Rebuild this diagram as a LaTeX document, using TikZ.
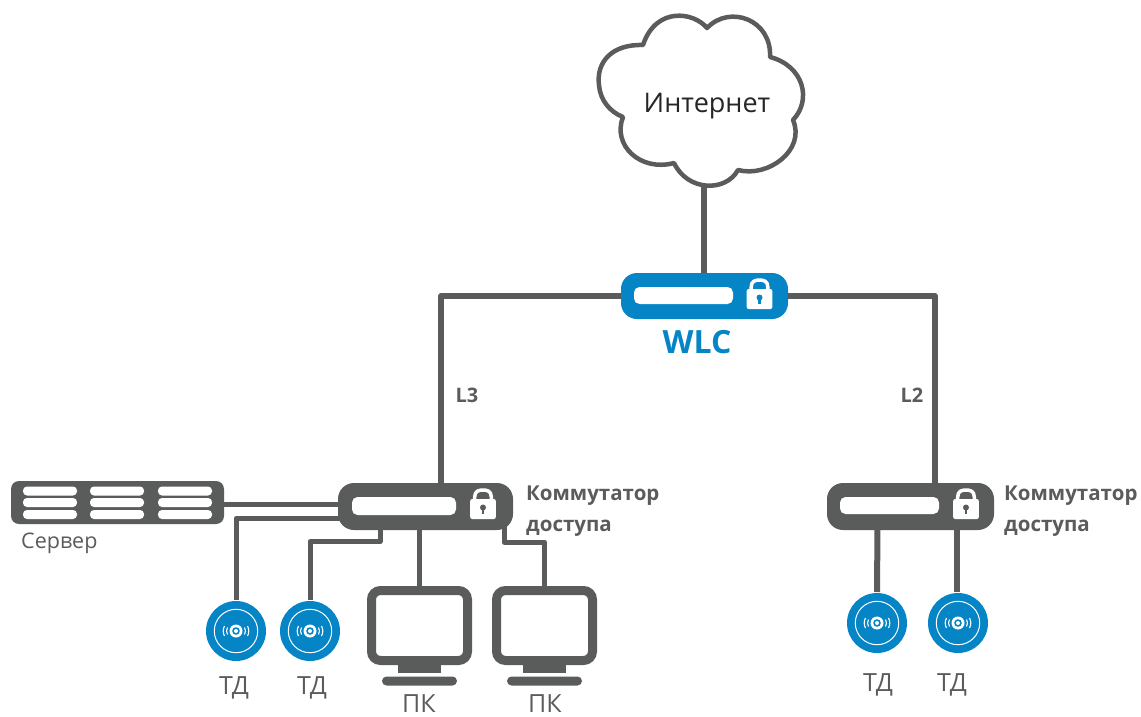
\documentclass[tikz,border=0pt]{standalone}
\usepackage{fontspec}
\setmainfont{Open Sans}
\usetikzlibrary{calc}
\definecolor{dgray}{HTML}{5A5B5B}
\definecolor{wblue}{HTML}{0585C6}
\tikzset{
  x=1pt,y=-1pt,
  link/.style={draw=dgray,line width=6pt,line join=round},
  thinlink/.style={draw=dgray,line width=5pt,line join=round},
  devbox/.style={rectangle,rounded corners=16pt,inner sep=0pt,outer sep=0pt,fill=dgray},
  slotbar/.style={rectangle,rounded corners=5.5pt,inner sep=0pt,outer sep=0pt,fill=white},
  srvbar/.style={rectangle,rounded corners=4pt,inner sep=0pt,outer sep=0pt,fill=white,minimum width=54pt,minimum height=9pt},
  apdisc/.style={circle,fill=wblue,inner sep=0pt,outer sep=0pt,minimum size=60pt},
  lbl/.style={inner sep=0pt,text=dgray,font=\fontsize{25}{28}\selectfont},
  lblb/.style={inner sep=0pt,text=dgray,font=\fontsize{20.5}{31}\selectfont\bfseries,align=left,anchor=north west},
  lockpic/.pic={
    \draw[white,line width=3.5pt] (-8.3,1) -- (-8.3,-3) .. controls (-8.3,-9) and (-4,-10) .. (0,-10) .. controls (4,-10) and (8.3,-9) .. (8.3,-3) -- (8.3,1);
    \fill[white,rounded corners=2pt] (-12.8,-1) rectangle (12.8,19);
    \fill[dgray] (0,7.5) circle (3);
    \fill[dgray] (-1.4,8) rectangle (1.4,14);
  },
  lockblue/.pic={
    \draw[white,line width=3.5pt] (-8.3,1) -- (-8.3,-3) .. controls (-8.3,-9) and (-4,-10) .. (0,-10) .. controls (4,-10) and (8.3,-9) .. (8.3,-3) -- (8.3,1);
    \fill[white,rounded corners=2pt] (-12.8,-1) rectangle (12.8,19);
    \fill[wblue] (0,7.5) circle (3);
    \fill[wblue] (-1.4,8) rectangle (1.4,14);
  },
  appic/.pic={
    \draw[white,line width=1pt] (0,0) circle (21.7);
    \fill[white] (0,0) circle (6.5);
    \fill[wblue] (0,0) circle (3.8);
    \fill[white] (0,0) circle (2);
    \draw[white,line width=1.1pt] (-8.5,-3.5) .. controls (-9.8,-1.5) and (-9.8,1.5) .. (-8.5,3.5);
    \draw[white,line width=1.1pt] (8.5,-3.5) .. controls (9.8,-1.5) and (9.8,1.5) .. (8.5,3.5);
    \draw[white,line width=1.1pt] (-11.5,-5) .. controls (-13.2,-2) and (-13.2,2) .. (-11.5,5);
    \draw[white,line width=1.1pt] (11.5,-5) .. controls (13.2,-2) and (13.2,2) .. (11.5,5);
  },
  monitorpic/.pic={
    \draw[dgray,line width=9pt,rounded corners=9pt,fill=white] (-48,-35) rectangle (48,35);
    \fill[dgray] (-21.5,39) rectangle (21.5,47);
    \fill[dgray,rounded corners=4.5pt] (-37.5,51) rectangle (37.5,60);
  }
}
\begin{document}
\begin{tikzpicture}
\useasboundingbox (0,0) rectangle (1141,716);
% cloud
\draw[dgray,line width=4.5pt,line join=round,fill=white]
  (707,28) .. controls (694,12) and (656,6) .. (643,45)
  .. controls (612,44) and (596,62) .. (599,85)
  .. controls (600,100) and (610,112) .. (623,117)
  .. controls (612,145) and (640,172) .. (674,163)
  .. controls (688,192) and (726,192) .. (738,170)
  .. controls (768,178) and (806,150) .. (793,120)
  .. controls (812,100) and (804,66) .. (770,57)
  .. controls (772,20) and (730,4) .. (707,28) -- cycle;
\node[inner sep=0pt,text=black!85,font=\fontsize{27}{30}\selectfont] (inet) at (707,106) {Интернет};
\coordinate (cloudB) at (704,185);
% devices
\node[devbox,fill=wblue,minimum width=167pt,minimum height=46pt] (wlc) at (704.5,296) {};
\node[devbox,minimum width=175pt,minimum height=47pt] (swL) at (425.5,506.5) {};
\node[devbox,minimum width=167pt,minimum height=47pt] (swR) at (910.5,506.5) {};
\node[devbox,rounded corners=8pt,minimum width=213pt,minimum height=43pt] (srv) at (117.5,502.5) {};
\node[apdisc] (ap1) at (236,631) {};
\node[apdisc] (ap2) at (310,631) {};
\node[apdisc] (ap3) at (877,623) {};
\node[apdisc] (ap4) at (958,623) {};
\coordinate (pc1) at (419.5,586);
\coordinate (pc2) at (544.5,586);
% connectors
\draw[link] (cloudB) -- (cloudB |- wlc.north);
\draw[link] (wlc.west) -| ([xshift=15.5pt]swL.north);
\draw[link] (wlc.east) -| ([xshift=24.5pt]swR.north);
\draw[thinlink] (srv.east |- 0,504) -- (swL.west |- 0,504);
\draw[thinlink] ([xshift=6pt]swL.west |- 0,518.5) -| ([yshift=1pt]ap1.north);
\draw[thinlink] ([xshift=-45.5pt,yshift=3pt]swL.south) |- ++(0,14.5) -| ([yshift=1pt]ap2.north);
\draw[thinlink] ([xshift=-6pt,yshift=3pt]swL.south) -- (pc1);
\draw[thinlink] ([xshift=78.5pt,yshift=8pt]swL.south) -- ++(0,20) -| (pc2);
\draw[link] ([xshift=-33pt,yshift=3pt]swR.south) -- ([yshift=1pt]ap3.north);
\draw[link] ([xshift=46.5pt,yshift=3pt]swR.south) -- ([xshift=-1pt,yshift=1pt]ap4.north);
% monitors
\pic at (419.5,625.5) {monitorpic};
\pic at (544.5,625.5) {monitorpic};
% device details
\node[slotbar,minimum width=99pt,minimum height=17pt] (wlcS) at (683.5,295.5) {};
\node[slotbar,minimum width=104pt,minimum height=18pt] (swLS) at (404,506) {};
\node[slotbar,minimum width=99pt,minimum height=17pt] (swRS) at (889.5,505.5) {};
\pic at (759.5,290) {lockblue};
\pic at (483,500) {lockpic};
\pic at (966,500) {lockpic};
\foreach \i/\x in {a/50,b/117,c/185}{
  \foreach \j/\y in {1/491,2/502.5,3/514.5}{
    \node[srvbar] (srv\i\j) at (\x,\y) {};
  }
}
\pic at (ap1) {appic};
\pic at (ap2) {appic};
\pic at (ap3) {appic};
\pic at (ap4) {appic};
% labels
\node[inner sep=0pt,text=wblue,font=\fontsize{32}{34}\selectfont\bfseries] (wlcT) at (697,342) {WLC};
\node[inner sep=0pt,text=dgray,font=\fontsize{20}{22}\selectfont\bfseries] (l3) at (467,395) {L3};
\node[inner sep=0pt,text=dgray,font=\fontsize{20}{22}\selectfont\bfseries] (l2) at (912,395) {L2};
\node[lblb] (tL) at (526,486) {Коммутатор\\доступа};
\node[lblb] (tR) at (1004,486) {Коммутатор\\доступа};
\node[lbl,anchor=west,font=\fontsize{21.5}{24}\selectfont] (tS) at (21,543) {Сервер};
\node[lbl] (t1) at (234,688) {ТД};
\node[lbl] (t2) at (312,688) {ТД};
\node[lbl] (t3) at (878,685) {ТД};
\node[lbl] (t4) at (952,685) {ТД};
\node[lbl] (p1) at (419,704) {ПК};
\node[lbl] (p2) at (545,704) {ПК};
\end{tikzpicture}
\end{document}
